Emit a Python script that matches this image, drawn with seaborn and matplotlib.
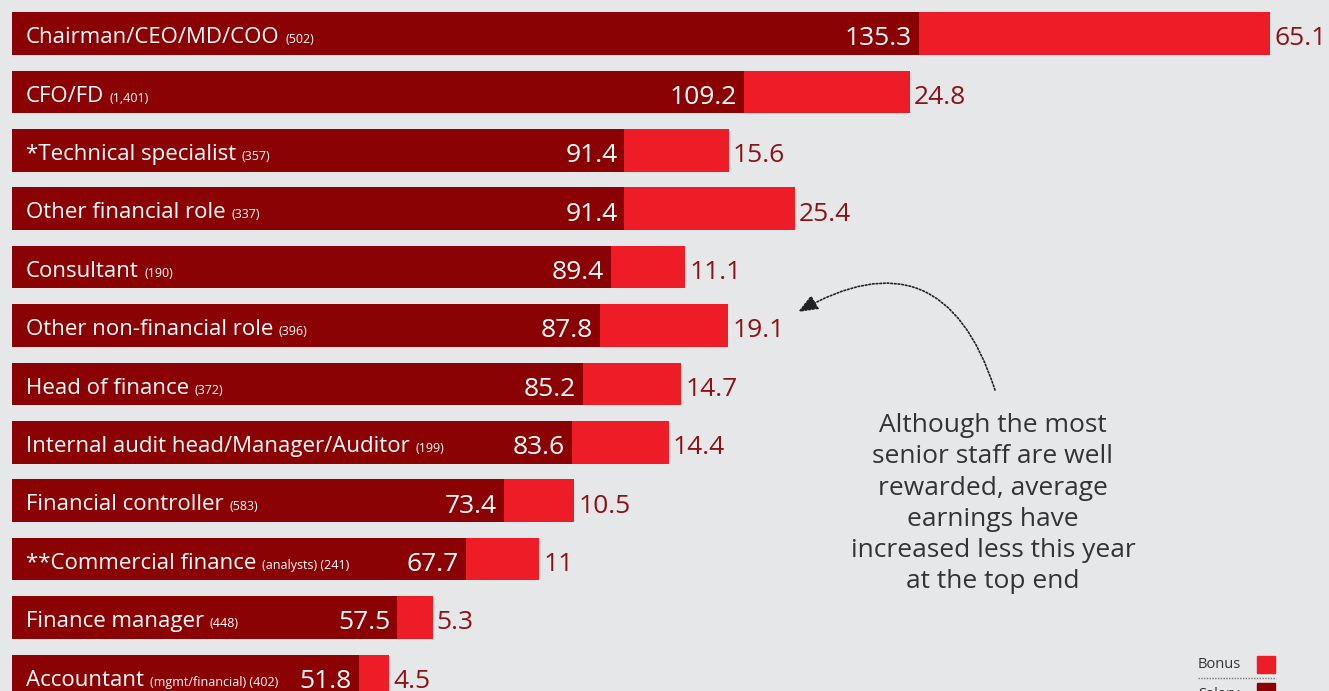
import matplotlib
matplotlib.use("Agg")
import matplotlib.pyplot as plt
import seaborn as sns
import pandas as pd
from matplotlib.patches import Rectangle
from matplotlib.lines import Line2D

roles = ["Chairman/CEO/MD/COO", "CFO/FD", "*Technical specialist", "Other financial role",
         "Consultant", "Other non-financial role", "Head of finance",
         "Internal audit head/Manager/Auditor", "Financial controller",
         "**Commercial finance", "Finance manager", "Accountant"]
counts = ["(502)", "(1,401)", "(357)", "(337)", "(190)", "(396)", "(372)", "(199)",
          "(583)", "(analysts) (241)", "(448)", "(mgmt/financial) (402)"]
salary = [135.3, 109.2, 91.4, 91.4, 89.4, 87.8, 85.2, 83.6, 73.4, 67.7, 57.5, 51.8]
bonus = [65.1, 24.8, 15.6, 25.4, 11.1, 19.1, 14.7, 14.4, 10.5, 11, 5.3, 4.5]

SAL_C = "#8a0204"
BON_C = "#ed1c26"
BG = "#e6e7e9"
TXT = "#333333"
CAP = 187.8  # visual break for the longest bar

sns.set_theme(style="white")
plt.rcParams["font.family"] = ["Open Sans", "DejaVu Sans"]

df = pd.DataFrame({"role": roles, "salary": salary, "bonus": bonus})
df["shown"] = [min(s + b, CAP) for s, b in zip(salary, bonus)]

fig = plt.figure(figsize=(13.29, 6.91), dpi=100, facecolor=BG)
ax = fig.add_axes([0, 0, 1, 1])
ax.set_facecolor(BG)

sns.barplot(data=df, x="shown", y="role", order=roles, color=BON_C, saturation=1,
            width=0.73, linewidth=0, ax=ax)
sns.barplot(data=df, x="salary", y="role", order=roles, color=SAL_C, saturation=1,
            width=0.73, linewidth=0, ax=ax)

px = 6.70  # pixels per unit
ax.set_xlim(-12 / px, (1329 - 12) / px)
ax.set_ylim((691 - 33.5) / 58.4, -33.5 / 58.4)
for s in ax.spines.values():
    s.set_visible(False)
ax.set_xticks([]); ax.set_yticks([])
ax.set_xlabel(""); ax.set_ylabel("")

for i, (r, c, s, sh, b) in enumerate(zip(roles, counts, salary, df["shown"], bonus)):
    t1 = ax.text(14 / px, i + 0.165, r, color="white", fontsize=16, va="baseline", ha="left")
    ax.annotate(c, xy=(1, i + 0.165), xycoords=(t1, "data"), xytext=(4, 0),
                textcoords="offset points", color="white", fontsize=9, va="baseline", ha="left")
    ax.text(s - 7 / px, i + 0.205, f"{s:g}", color="white", fontsize=19, va="baseline", ha="right")
    ax.text(sh + 4 / px, i + 0.205, f"{b:g}", color="#8b1216", fontsize=19, va="baseline", ha="left")

# annotation
note = ("Although the most\nsenior staff are well\nrewarded, average\nearnings have\n"
        "increased less this year\nat the top end")
ax.text((993 - 12) / px, (413 - 33.5) / 58.4, note, ha="center", va="top", fontsize=19,
        color=TXT, linespacing=1.33)
ax.annotate("", xy=((798 - 12) / px, (312 - 33.5) / 58.4),
            xytext=((995 - 12) / px, (390 - 33.5) / 58.4),
            arrowprops=dict(arrowstyle="-|>,head_length=1.0,head_width=0.4", color="#222222",
                            linestyle=(0, (1, 1.2)), linewidth=1.2,
                            connectionstyle="angle3,angleA=108,angleB=30",
                            shrinkA=0, shrinkB=0))

# legend
W, H = 1329, 691
fig.text(1198 / W, (H - 668) / H, "Bonus", fontsize=10.5, color=TXT, va="baseline", ha="left")
fig.patches.append(Rectangle((1257 / W, (H - 673) / H), 18 / W, 17 / H,
                             transform=fig.transFigure, color=BON_C, figure=fig))
fig.lines.append(Line2D([1198 / W, 1276 / W], [(H - 678) / H] * 2, transform=fig.transFigure,
                        color="#777777", linestyle=(0, (1, 1)), linewidth=1, figure=fig))
fig.text(1198 / W, (H - 698) / H, "Salary", fontsize=10.5, color=TXT, va="baseline", ha="left")
fig.patches.append(Rectangle((1257 / W, (H - 700) / H), 18 / W, 17 / H,
                             transform=fig.transFigure, color=SAL_C, figure=fig))

fig.savefig("out.png", dpi=100, facecolor=BG)
